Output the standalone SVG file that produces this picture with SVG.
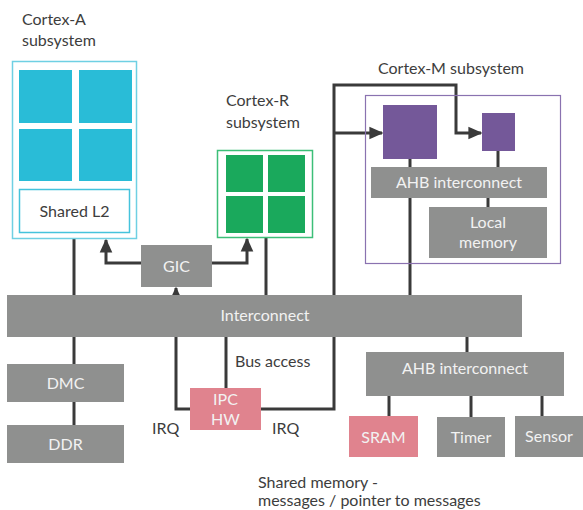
<svg xmlns="http://www.w3.org/2000/svg" width="583" height="510" viewBox="0 0 583 510">
<defs>
<style>
.lbl{font-family:Lato,"Open Sans","Liberation Sans",sans-serif;font-size:16px;fill:#3d3d3d}
.wt{font-family:Lato,"Open Sans","Liberation Sans",sans-serif;font-size:16px;fill:#f2f2f2;text-anchor:middle}
.gray{fill:#8f908f}
.pink{fill:#e0838e}
.cyan{fill:#29bcd7}
.green{fill:#1aa95c}
.purple{fill:#745899}
.ln{stroke:#3a3a3a;stroke-width:3;fill:none}
</style>
<marker id="ah" viewBox="0 0 10 10" refX="9" refY="5" markerWidth="14" markerHeight="14" orient="auto" markerUnits="userSpaceOnUse">
<path d="M0,0.5 L10,5 L0,9.5 z" fill="#3a3a3a"/>
</marker>
</defs>
<rect width="583" height="510" fill="#ffffff"/>

<g id="connectors">
<line class="ln" x1="74" y1="238" x2="74" y2="296"/>
<line class="ln" x1="74" y1="336" x2="74" y2="365"/>
<line class="ln" x1="74" y1="401" x2="74" y2="426"/>
<polyline class="ln" points="142,263 106,263 106,240" marker-end="url(#ah)"/>
<polyline class="ln" points="211,263 247,263 247,239" marker-end="url(#ah)"/>
<line class="ln" x1="266" y1="238" x2="266" y2="296"/>
<polyline class="ln" points="191,409 176,409 176,288" marker-end="url(#ah)"/>
<line class="ln" x1="226" y1="336" x2="226" y2="389"/>
<polyline class="ln" points="260,409 334,409 334,85 456,85 456,133 481,133" marker-end="url(#ah)"/>
<line class="ln" x1="334" y1="133" x2="382" y2="133" marker-end="url(#ah)"/>
<line class="ln" x1="410" y1="158" x2="410" y2="168"/>
<line class="ln" x1="498" y1="150" x2="498" y2="168"/>
<line class="ln" x1="488" y1="197" x2="488" y2="208"/>
<line class="ln" x1="410" y1="197" x2="410" y2="296"/>
<line class="ln" x1="467" y1="336" x2="467" y2="353"/>
<line class="ln" x1="389" y1="395" x2="389" y2="417"/>
<line class="ln" x1="471" y1="395" x2="471" y2="418"/>
<line class="ln" x1="542" y1="395" x2="542" y2="417"/>
</g>

<g id="cortex-a">
<text class="lbl" x="22" y="25">Cortex-A</text>
<text class="lbl" x="22" y="46">subsystem</text>
<rect x="12.5" y="61.5" width="124" height="177" fill="#fff" stroke="#6fd0e3" stroke-width="1.5"/>
<rect class="cyan" x="19" y="70" width="53" height="53"/>
<rect class="cyan" x="79" y="70" width="53" height="53"/>
<rect class="cyan" x="19" y="129" width="53" height="52"/>
<rect class="cyan" x="79" y="129" width="53" height="52"/>
<rect x="19.5" y="189.5" width="110" height="43" fill="#fff" stroke="#45c3dc" stroke-width="1.5"/>
<text class="lbl" x="74.5" y="217" text-anchor="middle">Shared L2</text>
</g>

<g id="cortex-r">
<text class="lbl" x="226" y="106">Cortex-R</text>
<text class="lbl" x="226" y="128">subsystem</text>
<rect x="217.5" y="150.5" width="95" height="87" fill="#fff" stroke="#3cbf78" stroke-width="1.5"/>
<rect class="green" x="226" y="155" width="37" height="37"/>
<rect class="green" x="268" y="155" width="37" height="37"/>
<rect class="green" x="226" y="196" width="37" height="37"/>
<rect class="green" x="268" y="196" width="37" height="37"/>
</g>

<g id="gic">
<rect class="gray" x="141" y="245" width="71" height="42"/>
<text class="wt" x="176.5" y="272">GIC</text>
</g>

<g id="cortex-m">
<text class="lbl" x="378" y="74">Cortex-M subsystem</text>
<rect x="365.5" y="95.5" width="195" height="168" fill="none" stroke="#8a72b0" stroke-width="1.2"/>
<rect class="purple" x="383" y="105" width="54" height="54"/>
<rect class="purple" x="482" y="113" width="33" height="38"/>
<rect class="gray" x="371" y="167" width="176" height="31"/>
<text class="wt" x="459" y="188">AHB interconnect</text>
<rect class="gray" x="429" y="207" width="118" height="51"/>
<text class="wt" x="488" y="228">Local</text>
<text class="wt" x="488" y="248">memory</text>
</g>

<g id="interconnect">
<rect class="gray" x="7" y="295" width="515" height="42"/>
<text class="wt" x="265" y="321">Interconnect</text>
</g>

<g id="dmc">
<rect class="gray" x="7" y="364" width="117" height="38"/>
<text class="wt" x="65.5" y="389">DMC</text>
</g>
<g id="ddr">
<rect class="gray" x="7" y="425" width="117" height="38"/>
<text class="wt" x="65.5" y="450">DDR</text>
</g>

<g id="ipc-hw">
<rect class="pink" x="190" y="388" width="71" height="42"/>
<text class="wt" x="225.5" y="405">IPC</text>
<text class="wt" x="225.5" y="425">HW</text>
</g>
<text class="lbl" x="235" y="367">Bus access</text>
<text class="lbl" x="152" y="434">IRQ</text>
<text class="lbl" x="272" y="434">IRQ</text>

<g id="ahb-lower">
<rect class="gray" x="366" y="352" width="198" height="44"/>
<text class="wt" x="465" y="374">AHB interconnect</text>
</g>
<g id="sram">
<rect class="pink" x="349" y="416" width="69" height="41"/>
<text class="wt" x="383.5" y="443">SRAM</text>
</g>
<g id="timer">
<rect class="gray" x="437" y="417" width="68" height="40"/>
<text class="wt" x="471" y="443">Timer</text>
</g>
<g id="sensor">
<rect class="gray" x="515" y="416" width="68" height="41"/>
<text class="wt" x="549" y="442">Sensor</text>
</g>

<text class="lbl" x="258" y="488">Shared memory -</text>
<text class="lbl" x="258" y="506">messages / pointer to messages</text>
</svg>
